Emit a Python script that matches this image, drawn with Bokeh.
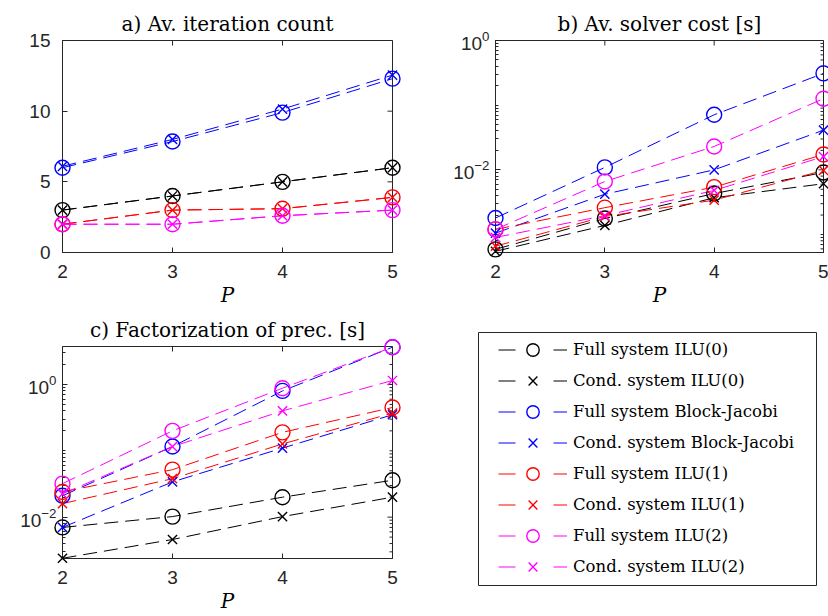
import numpy as np
from bokeh.plotting import figure
from bokeh.layouts import column, row
from bokeh.models import Range1d, FixedTicker, Legend, LegendItem
from bokeh.embed import file_html
from bokeh.resources import INLINE

# ---------------- data ----------------
P = [2, 3, 4, 5]
p_ticks = [2, 3, 4, 5]

series_labels = [
    "Full system ILU(0)", "Cond. system ILU(0)",
    "Full system Block-Jacobi", "Cond. system Block-Jacobi",
    "Full system ILU(1)", "Cond. system ILU(1)",
    "Full system ILU(2)", "Cond. system ILU(2)",
]
series_colors = ["#000000", "#000000", "#0000ff", "#0000ff",
                 "#ff0000", "#ff0000", "#ff00ff", "#ff00ff"]
series_markers = ["circle", "x", "circle", "x", "circle", "x", "circle", "x"]

# a) Av. iteration count
iter_full_ilu0 = [3, 4, 5, 6]
iter_cond_ilu0 = [3, 4, 5, 6]
iter_full_bj = [6.0, 7.85, 9.9, 12.3]
iter_cond_bj = [6.1, 8.0, 10.15, 12.55]
iter_full_ilu1 = [2, 3, 3.1, 3.9]
iter_cond_ilu1 = [2, 3, 3.1, 3.9]
iter_full_ilu2 = [2, 2, 2.6, 3.0]
iter_cond_ilu2 = [2, 2, 2.6, 3.0]
iter_ticks = [0, 5, 10, 15]

# b) Av. solver cost [s]
solve_full_ilu0 = [5.9e-4, 1.77e-3, 4.3e-3, 9.1e-3]
solve_cond_ilu0 = [5.5e-4, 1.38e-3, 3.7e-3, 6.1e-3]
solve_full_bj = [1.8e-3, 1.09e-2, 0.071, 0.31]
solve_cond_bj = [1.05e-3, 4.2e-3, 1.0e-2, 0.041]
solve_full_ilu1 = [1.2e-3, 2.6e-3, 5.4e-3, 0.0173]
solve_cond_ilu1 = [6.6e-4, 1.9e-3, 3.4e-3, 9.8e-3]
solve_full_ilu2 = [1.2e-3, 6.6e-3, 0.023, 0.126]
solve_cond_ilu2 = [9.0e-4, 1.96e-3, 4.8e-3, 0.016]
solve_ticks = [1e-2, 1e0]

# c) Factorization of prec. [s]
fact_full_ilu0 = [7.0e-3, 0.0102, 0.020, 0.036]
fact_cond_ilu0 = [2.4e-3, 4.6e-3, 0.0102, 0.020]
fact_full_bj = [0.021, 0.116, 0.80, 3.65]
fact_cond_bj = [7.0e-3, 0.034, 0.11, 0.35]
fact_full_ilu1 = [0.024, 0.052, 0.19, 0.45]
fact_cond_ilu1 = [0.016, 0.038, 0.127, 0.37]
fact_full_ilu2 = [0.032, 0.20, 0.88, 3.65]
fact_cond_ilu2 = [0.0225, 0.116, 0.40, 1.15]
fact_ticks = [1e-2, 1e0]

iter_series = [iter_full_ilu0, iter_cond_ilu0, iter_full_bj, iter_cond_bj,
               iter_full_ilu1, iter_cond_ilu1, iter_full_ilu2, iter_cond_ilu2]
solve_series = [solve_full_ilu0, solve_cond_ilu0, solve_full_bj, solve_cond_bj,
                solve_full_ilu1, solve_cond_ilu1, solve_full_ilu2, solve_cond_ilu2]
fact_series = [fact_full_ilu0, fact_cond_ilu0, fact_full_bj, fact_cond_bj,
               fact_full_ilu1, fact_cond_ilu1, fact_full_ilu2, fact_cond_ilu2]

# ---------------- style ----------------
AX = "#262626"
SANS = "Liberation Sans"
SERIF = "DejaVu Serif"


def log_minor(lo_exp, hi_exp, majors):
    vals = []
    for e in range(lo_exp, hi_exp + 1):
        for m in range(1, 10):
            v = m * 10.0 ** e
            if not any(abs(v - t) / t < 1e-9 for t in majors):
                vals.append(v)
    return vals


def style_axis(ax, standoff):
    ax.axis_line_color = AX
    ax.axis_line_width = 1
    ax.major_tick_line_color = AX
    ax.minor_tick_line_color = AX
    ax.major_tick_in = 5
    ax.major_tick_out = 0
    ax.minor_tick_in = 3
    ax.minor_tick_out = 0
    ax.major_label_text_font = SANS
    ax.major_label_text_color = AX
    ax.major_label_text_font_size = "19px"
    ax.major_label_standoff = standoff


def make_panel(title, series, log, y_lo, y_hi, y_major, y_minor,
               fw, ml, mr, mt, mb, ystand):
    p = figure(frame_width=fw, frame_height=212,
               y_axis_type="log" if log else "linear",
               x_range=Range1d(P[0], P[-1]), y_range=Range1d(y_lo, y_hi),
               output_backend="svg", toolbar_location=None,
               min_border_left=ml, min_border_right=mr,
               min_border_top=mt, min_border_bottom=mb)
    p.grid.visible = False
    p.outline_line_color = AX
    p.outline_line_width = 1
    p.background_fill_color = "white"
    p.border_fill_color = "white"

    p.title.text = title
    p.title.align = "center"
    p.title.text_font = SERIF
    p.title.text_font_size = "20px"
    p.title.text_font_style = "normal"
    p.title.text_color = "#000000"
    p.title.standoff = 9

    xa = p.xaxis[0]
    ya = p.yaxis[0]
    xa.ticker = FixedTicker(ticks=p_ticks, minor_ticks=[])
    ya.ticker = FixedTicker(ticks=y_major, minor_ticks=y_minor)
    style_axis(xa, 12)
    style_axis(ya, ystand)
    xa.axis_label = "P"
    xa.axis_label_text_font = SERIF
    xa.axis_label_text_font_style = "italic"
    xa.axis_label_text_font_size = "20px"
    xa.axis_label_text_color = "#000000"
    xa.axis_label_standoff = 2

    # inner ticks on the top and right edges of the box (half of each dash is
    # clipped away by the frame, leaving an inward tick)
    p.scatter(p_ticks, [y_hi] * len(p_ticks), marker="dash", angle=np.pi / 2,
              size=10, line_color=AX, line_width=1)
    p.scatter([P[-1]] * len(y_major), y_major, marker="dash",
              size=10, line_color=AX, line_width=1)
    if y_minor:
        p.scatter([P[-1]] * len(y_minor), y_minor, marker="dash",
                  size=6, line_color=AX, line_width=1)

    for vals, c, m in zip(series, series_colors, series_markers):
        p.line(P, vals, line_color=c, line_width=1, line_dash="14 7")
        p.scatter(P, vals, marker=m, size=15 if m == "circle" else 13,
                  fill_color=None, line_color=c, line_width=1.4,
                  level="overlay")
    return p


pa = make_panel("a) Av. iteration count", iter_series, False, 0, 15,
                iter_ticks, [], 330, 62, 41, 40, 58, 12)
pb = make_panel("b) Av. solver cost [s]", solve_series, True, 5.27e-4, 1.0,
                solve_ticks, log_minor(-4, 0, solve_ticks), 328, 62, 5, 40, 58, 6)
pc = make_panel("c) Factorization of prec. [s]", fact_series, True, 2.38e-3, 3.74,
                fact_ticks, log_minor(-3, 0, fact_ticks), 330, 62, 41, 36, 46, 6)

# legend panel: its frame is the legend box; the legend renderers use the
# real series, which lie outside this panel's ranges and are clipped away
pd = figure(frame_width=338, frame_height=253, x_range=Range1d(0, 1),
            y_range=Range1d(0, 1), output_backend="svg", toolbar_location=None,
            x_axis_location=None, y_axis_location=None, title=None,
            min_border_left=45, min_border_right=12,
            min_border_top=22, min_border_bottom=19)
pd.grid.visible = False
pd.outline_line_color = AX
pd.outline_line_width = 1

items = []
for lab, vals, c, m in zip(series_labels, iter_series, series_colors, series_markers):
    r1 = pd.line(P, vals, line_color=c, line_width=1, line_dash="17 38")
    r2 = pd.scatter(P, vals, marker=m, fill_color=None, line_color=c, line_width=1.4)
    items.append(LegendItem(label=lab, renderers=[r1, r2]))

legend = Legend(items=items, location=(20, 3), orientation="vertical",
                padding=0, spacing=0, margin=0,
                glyph_width=69, glyph_height=31, label_height=31,
                label_standoff=6, border_line_color=None,
                background_fill_alpha=0,
                label_text_font=SERIF, label_text_font_size="16.5px",
                label_text_color="#000000")
pd.add_layout(legend, "center")

layout = column(row(pa, pb), row(pc, column(pd)))
open("out.html", "w").write(file_html(layout, INLINE))
